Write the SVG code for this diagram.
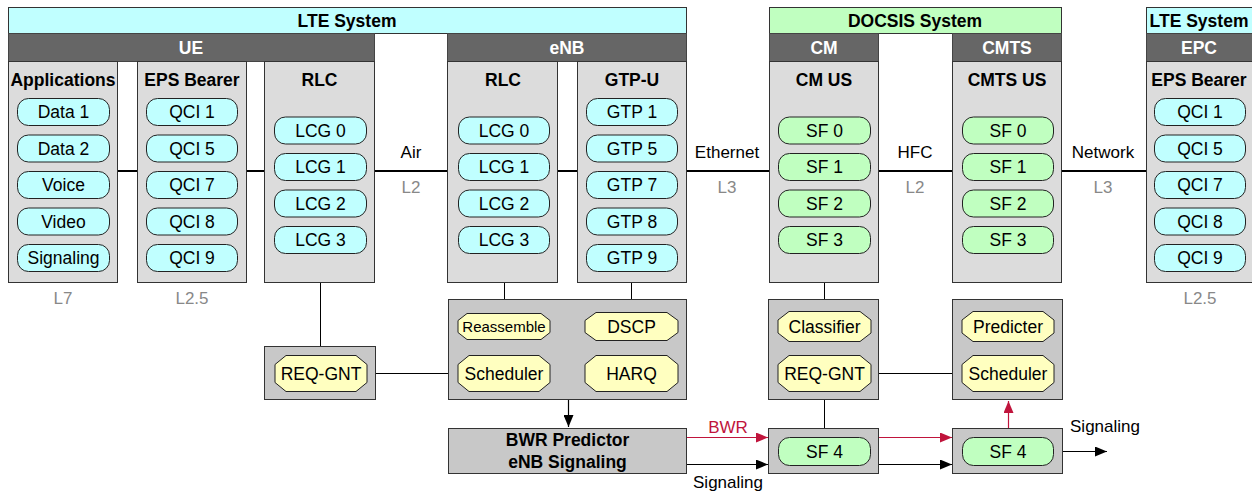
<svg xmlns="http://www.w3.org/2000/svg" width="1252" height="491" viewBox="0 0 1252 491">
<style>
  .sys-lte { fill: #c0ffff; stroke: #333; stroke-width: 1; }
  .sys-doc { fill: #c0ffc0; stroke: #333; stroke-width: 1; }
  .bar { fill: #666; stroke: #444; stroke-width: 1; }
  .col { fill: #dcdcdc; stroke: #333; stroke-width: 1; }
  .blk { fill: #c8c8c8; stroke: #333; stroke-width: 1; }
  .pc { fill: #c0ffff; stroke: #222; stroke-width: 1; }
  .pg { fill: #c0ffc0; stroke: #222; stroke-width: 1; }
  .oct { fill: #ffffc0; stroke: #222; stroke-width: 1; }
  text { font-family: "Liberation Sans", Arial, Helvetica, sans-serif; }
  .t-sys { font-size: 17.5px; font-weight: bold; fill: #000; text-anchor: middle; }
  .t-bar { font-size: 17.5px; font-weight: bold; fill: #fff; text-anchor: middle; }
  .t-col { font-size: 17.5px; font-weight: bold; fill: #000; text-anchor: middle; }
  .t-item { font-size: 17.5px; fill: #000; text-anchor: middle; }
  .t-small { font-size: 15px; fill: #000; text-anchor: middle; }
  .t-lbl { font-size: 17px; fill: #000; text-anchor: middle; }
  .t-layer { font-size: 17px; fill: #888; text-anchor: middle; }
  .t-red { font-size: 17px; fill: #c0143c; text-anchor: middle; }
  .link { stroke: #000; stroke-width: 2; fill: none; }
  .wire { stroke: #000; stroke-width: 1; fill: none; }
  .arrow { stroke: #000; stroke-width: 1.2; fill: none; marker-end: url(#ah); }
  .arrow-red { stroke: #c0143c; stroke-width: 1.2; fill: none; marker-end: url(#ahr); }
</style>
<defs>
  <marker id="ah" viewBox="0 0 12 10" refX="12" refY="5" markerWidth="12" markerHeight="10" markerUnits="userSpaceOnUse" orient="auto">
    <path d="M0,0 L12,5 L0,10 Z" fill="#000"/>
  </marker>
  <marker id="ahr" viewBox="0 0 12 10" refX="12" refY="5" markerWidth="12" markerHeight="10" markerUnits="userSpaceOnUse" orient="auto">
    <path d="M0,0 L12,5 L0,10 Z" fill="#c0143c"/>
  </marker>
</defs>

<rect width="1252" height="491" fill="#fff"/>

<!-- connectors -->
<g id="connectors">
  <!-- layer links at the data-plane level -->
  <line class="link" x1="118" y1="171" x2="137" y2="171"/>
  <line class="link" x1="247" y1="171" x2="264" y2="171"/>
  <line class="link" x1="375" y1="171" x2="447" y2="171"/>
  <line class="link" x1="558" y1="171" x2="577" y2="171"/>
  <line class="link" x1="687" y1="171" x2="769" y2="171"/>
  <line class="link" x1="879" y1="171" x2="952" y2="171"/>
  <line class="link" x1="1062" y1="171" x2="1146" y2="171"/>
  <!-- control-plane wires -->
  <line class="wire" x1="320.5" y1="283" x2="320.5" y2="346"/>
  <line class="wire" x1="504.5" y1="283" x2="504.5" y2="299"/>
  <line class="wire" x1="631.5" y1="272" x2="631.5" y2="299"/>
  <line class="wire" x1="824.5" y1="283" x2="824.5" y2="299"/>
  <line class="wire" x1="824.5" y1="400" x2="824.5" y2="428"/>
  <line class="wire" x1="367" y1="373.5" x2="458" y2="373.5"/>
  <line class="wire" x1="550" y1="373.5" x2="585" y2="373.5"/>
  <line class="wire" x1="871" y1="373.5" x2="962" y2="373.5"/>
  <line class="wire" x1="1008.5" y1="341" x2="1008.5" y2="355"/>
  <!-- arrows -->
  <line class="arrow" x1="568.5" y1="400" x2="568.5" y2="427"/>
  <line class="arrow-red" x1="687" y1="437.5" x2="768" y2="437.5"/>
  <line class="arrow-red" x1="879" y1="437.5" x2="952" y2="437.5"/>
  <line class="arrow-red" x1="1008.5" y1="428" x2="1008.5" y2="401"/>
  <line class="arrow" x1="687" y1="464.5" x2="768" y2="464.5"/>
  <line class="arrow" x1="879" y1="464.5" x2="952" y2="464.5"/>
  <line class="arrow" x1="1053" y1="451.5" x2="1107" y2="451.5"/>
  <!-- link labels -->
  <text class="t-lbl" x="411" y="158">Air</text>
  <text class="t-layer" x="411" y="193">L2</text>
  <text class="t-lbl" x="727" y="158">Ethernet</text>
  <text class="t-layer" x="727" y="193">L3</text>
  <text class="t-lbl" x="915" y="158">HFC</text>
  <text class="t-layer" x="915" y="193">L2</text>
  <text class="t-lbl" x="1103" y="158">Network</text>
  <text class="t-layer" x="1103" y="193">L3</text>
  <text class="t-red" x="728" y="433">BWR</text>
  <text class="t-lbl" x="728" y="488">Signaling</text>
  <text class="t-lbl" x="1105" y="432">Signaling</text>
</g>

<!-- system headers -->
<g id="lte-system">
  <rect class="sys-lte" x="8.5" y="7.5" width="678" height="26"/>
  <text class="t-sys" x="347" y="26.5">LTE System</text>
</g>
<g id="docsis-system">
  <rect class="sys-doc" x="769.5" y="7.5" width="292" height="26"/>
  <text class="t-sys" x="915" y="26.5">DOCSIS System</text>
</g>
<g id="lte-system-epc">
  <rect class="sys-lte" x="1146.5" y="7.5" width="106" height="26"/>
  <text class="t-sys" x="1199" y="26.5">LTE System</text>
</g>

<!-- UE -->
<g id="ue">
  <rect class="bar" x="8.5" y="33.5" width="366" height="28"/>
  <text class="t-bar" x="191" y="54">UE</text>
</g>
<g id="ue-applications">
  <rect class="col" x="8.5" y="61.5" width="109" height="221"/>
  <text class="t-col" x="63" y="86">Applications</text>
  <rect class="pc" x="17.5" y="98.5" width="92" height="27" rx="11"/><text class="t-item" x="63.5" y="118">Data 1</text>
  <rect class="pc" x="17.5" y="135" width="92" height="27" rx="11"/><text class="t-item" x="63.5" y="154.5">Data 2</text>
  <rect class="pc" x="17.5" y="171.5" width="92" height="27" rx="11"/><text class="t-item" x="63.5" y="191">Voice</text>
  <rect class="pc" x="17.5" y="208" width="92" height="27" rx="11"/><text class="t-item" x="63.5" y="227.5">Video</text>
  <rect class="pc" x="17.5" y="244.5" width="92" height="27" rx="11"/><text class="t-item" x="63.5" y="264">Signaling</text>
  <text class="t-layer" x="63" y="304">L7</text>
</g>
<g id="ue-eps-bearer">
  <rect class="col" x="137.5" y="61.5" width="109" height="221"/>
  <text class="t-col" x="192" y="86">EPS Bearer</text>
  <rect class="pc" x="146.5" y="98.5" width="91" height="27" rx="11"/><text class="t-item" x="192" y="118">QCI 1</text>
  <rect class="pc" x="146.5" y="135" width="91" height="27" rx="11"/><text class="t-item" x="192" y="154.5">QCI 5</text>
  <rect class="pc" x="146.5" y="171.5" width="91" height="27" rx="11"/><text class="t-item" x="192" y="191">QCI 7</text>
  <rect class="pc" x="146.5" y="208" width="91" height="27" rx="11"/><text class="t-item" x="192" y="227.5">QCI 8</text>
  <rect class="pc" x="146.5" y="244.5" width="91" height="27" rx="11"/><text class="t-item" x="192" y="264">QCI 9</text>
  <text class="t-layer" x="192" y="304">L2.5</text>
</g>
<g id="ue-rlc">
  <rect class="col" x="264.5" y="61.5" width="110" height="221"/>
  <text class="t-col" x="319.5" y="86">RLC</text>
  <rect class="pc" x="274.5" y="117" width="92" height="27" rx="11"/><text class="t-item" x="320.5" y="136.5">LCG 0</text>
  <rect class="pc" x="274.5" y="153.5" width="92" height="27" rx="11"/><text class="t-item" x="320.5" y="173">LCG 1</text>
  <rect class="pc" x="274.5" y="190" width="92" height="27" rx="11"/><text class="t-item" x="320.5" y="209.5">LCG 2</text>
  <rect class="pc" x="274.5" y="226.5" width="92" height="27" rx="11"/><text class="t-item" x="320.5" y="246">LCG 3</text>
</g>
<g id="ue-req-gnt">
  <rect class="blk" x="264.5" y="346.5" width="111" height="53"/>
  <polygon class="oct" points="286,355.5 356,355.5 367,364.5 367,382.5 356,391.5 286,391.5 275,382.5 275,364.5"/>
  <text class="t-item" x="321" y="379.5">REQ-GNT</text>
</g>

<!-- eNB -->
<g id="enb">
  <rect class="bar" x="447.5" y="33.5" width="239" height="28"/>
  <text class="t-bar" x="567" y="54">eNB</text>
</g>
<g id="enb-rlc">
  <rect class="col" x="447.5" y="61.5" width="110" height="221"/>
  <text class="t-col" x="503" y="86">RLC</text>
  <rect class="pc" x="458.5" y="117" width="91" height="27" rx="11"/><text class="t-item" x="504" y="136.5">LCG 0</text>
  <rect class="pc" x="458.5" y="153.5" width="91" height="27" rx="11"/><text class="t-item" x="504" y="173">LCG 1</text>
  <rect class="pc" x="458.5" y="190" width="91" height="27" rx="11"/><text class="t-item" x="504" y="209.5">LCG 2</text>
  <rect class="pc" x="458.5" y="226.5" width="91" height="27" rx="11"/><text class="t-item" x="504" y="246">LCG 3</text>
</g>
<g id="enb-gtpu">
  <rect class="col" x="577.5" y="61.5" width="109" height="221"/>
  <text class="t-col" x="632" y="86">GTP-U</text>
  <rect class="pc" x="586.5" y="98.5" width="91" height="27" rx="11"/><text class="t-item" x="632" y="118">GTP 1</text>
  <rect class="pc" x="586.5" y="135" width="91" height="27" rx="11"/><text class="t-item" x="632" y="154.5">GTP 5</text>
  <rect class="pc" x="586.5" y="171.5" width="91" height="27" rx="11"/><text class="t-item" x="632" y="191">GTP 7</text>
  <rect class="pc" x="586.5" y="208" width="91" height="27" rx="11"/><text class="t-item" x="632" y="227.5">GTP 8</text>
  <rect class="pc" x="586.5" y="244.5" width="91" height="27" rx="11"/><text class="t-item" x="632" y="264">GTP 9</text>
</g>
<g id="enb-control">
  <rect class="blk" x="448.5" y="299.5" width="238" height="100"/>
  <polygon class="oct" points="467,313.5 541,313.5 550,320.5 550,332.5 541,339.5 467,339.5 458,332.5 458,320.5"/>
  <text class="t-small" x="504" y="331.5">Reassemble</text>
  <polygon class="oct" points="596,312.5 667,312.5 678,320.5 678,332.5 667,340.5 596,340.5 585,332.5 585,320.5"/>
  <text class="t-item" x="631.5" y="332.5">DSCP</text>
  <polygon class="oct" points="469,355.5 539,355.5 550,364.5 550,382.5 539,391.5 469,391.5 458,382.5 458,364.5"/>
  <text class="t-item" x="504" y="379.5">Scheduler</text>
  <polygon class="oct" points="596,355.5 667,355.5 678,364.5 678,382.5 667,391.5 596,391.5 585,382.5 585,364.5"/>
  <text class="t-item" x="631.5" y="379.5">HARQ</text>
</g>
<g id="bwr-predictor">
  <rect class="blk" x="448.5" y="428.5" width="238" height="45"/>
  <text class="t-col" x="567.5" y="446">BWR Predictor</text>
  <text class="t-col" x="567.5" y="468">eNB Signaling</text>
</g>

<!-- CM -->
<g id="cm">
  <rect class="bar" x="769.5" y="33.5" width="109" height="28"/>
  <text class="t-bar" x="824" y="54">CM</text>
</g>
<g id="cm-us">
  <rect class="col" x="769.5" y="61.5" width="109" height="221"/>
  <text class="t-col" x="824" y="86">CM US</text>
  <rect class="pg" x="778.5" y="117" width="92" height="27" rx="11"/><text class="t-item" x="824.5" y="136.5">SF 0</text>
  <rect class="pg" x="778.5" y="153.5" width="92" height="27" rx="11"/><text class="t-item" x="824.5" y="173">SF 1</text>
  <rect class="pg" x="778.5" y="190" width="92" height="27" rx="11"/><text class="t-item" x="824.5" y="209.5">SF 2</text>
  <rect class="pg" x="778.5" y="226.5" width="92" height="27" rx="11"/><text class="t-item" x="824.5" y="246">SF 3</text>
</g>
<g id="cm-control">
  <rect class="blk" x="768.5" y="299.5" width="110" height="100"/>
  <polygon class="oct" points="789,311.5 860,311.5 871,320 871,333 860,341.5 789,341.5 778,333 778,320"/>
  <text class="t-item" x="824.5" y="332.5">Classifier</text>
  <polygon class="oct" points="789,355.5 860,355.5 871,364.5 871,382.5 860,391.5 789,391.5 778,382.5 778,364.5"/>
  <text class="t-item" x="824.5" y="379.5">REQ-GNT</text>
</g>
<g id="cm-sf4">
  <rect class="blk" x="768.5" y="428.5" width="110" height="45"/>
  <rect class="pg" x="778.5" y="437.5" width="92" height="28" rx="11"/>
  <text class="t-item" x="824.5" y="457.5">SF 4</text>
</g>

<!-- CMTS -->
<g id="cmts">
  <rect class="bar" x="952.5" y="33.5" width="109" height="28"/>
  <text class="t-bar" x="1007" y="54">CMTS</text>
</g>
<g id="cmts-us">
  <rect class="col" x="952.5" y="61.5" width="109" height="221"/>
  <text class="t-col" x="1007" y="86">CMTS US</text>
  <rect class="pg" x="962.5" y="117" width="91" height="27" rx="11"/><text class="t-item" x="1008" y="136.5">SF 0</text>
  <rect class="pg" x="962.5" y="153.5" width="91" height="27" rx="11"/><text class="t-item" x="1008" y="173">SF 1</text>
  <rect class="pg" x="962.5" y="190" width="91" height="27" rx="11"/><text class="t-item" x="1008" y="209.5">SF 2</text>
  <rect class="pg" x="962.5" y="226.5" width="91" height="27" rx="11"/><text class="t-item" x="1008" y="246">SF 3</text>
</g>
<g id="cmts-control">
  <rect class="blk" x="952.5" y="299.5" width="110" height="100"/>
  <polygon class="oct" points="973,311.5 1043,311.5 1054,320 1054,333 1043,341.5 973,341.5 962,333 962,320"/>
  <text class="t-item" x="1008" y="332.5">Predicter</text>
  <polygon class="oct" points="973,355.5 1043,355.5 1054,364.5 1054,382.5 1043,391.5 973,391.5 962,382.5 962,364.5"/>
  <text class="t-item" x="1008" y="379.5">Scheduler</text>
</g>
<g id="cmts-sf4">
  <rect class="blk" x="952.5" y="428.5" width="110" height="45"/>
  <rect class="pg" x="962.5" y="437.5" width="91" height="28" rx="11"/>
  <text class="t-item" x="1008" y="457.5">SF 4</text>
</g>

<!-- EPC -->
<g id="epc">
  <rect class="bar" x="1146.5" y="33.5" width="106" height="28"/>
  <text class="t-bar" x="1199" y="54">EPC</text>
</g>
<g id="epc-eps-bearer">
  <rect class="col" x="1146.5" y="61.5" width="106" height="221"/>
  <text class="t-col" x="1199" y="86">EPS Bearer</text>
  <rect class="pc" x="1154.5" y="98.5" width="91" height="27" rx="11"/><text class="t-item" x="1200" y="118">QCI 1</text>
  <rect class="pc" x="1154.5" y="135" width="91" height="27" rx="11"/><text class="t-item" x="1200" y="154.5">QCI 5</text>
  <rect class="pc" x="1154.5" y="171.5" width="91" height="27" rx="11"/><text class="t-item" x="1200" y="191">QCI 7</text>
  <rect class="pc" x="1154.5" y="208" width="91" height="27" rx="11"/><text class="t-item" x="1200" y="227.5">QCI 8</text>
  <rect class="pc" x="1154.5" y="244.5" width="91" height="27" rx="11"/><text class="t-item" x="1200" y="264">QCI 9</text>
  <text class="t-layer" x="1200" y="304">L2.5</text>
</g>
</svg>
